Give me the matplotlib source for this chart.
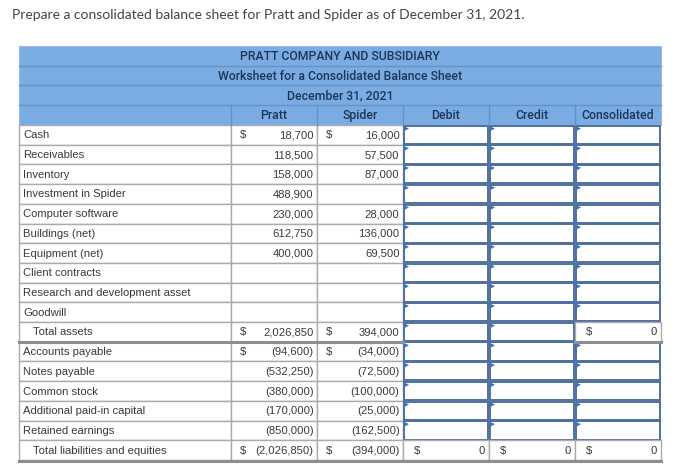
import matplotlib
matplotlib.use("Agg")
import matplotlib.pyplot as plt
from matplotlib.patches import Rectangle, Polygon

# ---------------- data ----------------
title = "Prepare a consolidated balance sheet for Pratt and Spider as of December 31, 2021."
header_lines = ["PRATT COMPANY AND SUBSIDIARY",
                "Worksheet for a Consolidated Balance Sheet",
                "December 31, 2021"]
col_headers = ["", "Pratt", "Spider", "Debit", "Credit", "Consolidated"]
row_labels = ["Cash", "Receivables", "Inventory", "Investment in Spider",
              "Computer software", "Buildings (net)", "Equipment (net)",
              "Client contracts", "Research and development asset", "Goodwill",
              "Total assets", "Accounts payable", "Notes payable", "Common stock",
              "Additional paid-in capital", "Retained earnings",
              "Total liabilities and equities"]
pratt = [18700, 118500, 158000, 488900, 230000, 612750, 400000, None, None, None,
         2026850, -94600, -532250, -380000, -170000, -850000, -2026850]
spider = [16000, 57500, 87000, None, 28000, 136000, 69500, None, None, None,
          394000, -34000, -72500, -100000, -25000, -162500, -394000]
dollar_rows = [0, 10, 11, 16]
total_rows = [10, 16]

# ---------------- layout ----------------
W, H = 700, 472
fig = plt.figure(figsize=(7, 4.72), dpi=100)
ax = fig.add_axes([0, 0, 1, 1])
ax.set_xlim(0, W)
ax.set_ylim(H, 0)
ax.axis("off")

pt = 72 / 100.0
col_x = [19, 231, 317, 403, 489, 575, 661]
head_y = [46, 65.7, 85.3, 105, 125]
body_top = 125
rh = (460 - 125) / 17.0

blue = "#7AACE3"
blue_line = "#6592C6"
head_txt = "#1D3557"
body_txt = "#3A3A3A"
gray = "#ABABAB"
inp_edge = "#4F709E"
tri_col = "#3D72BA"
narrow = ["Roboto", "DejaVu Sans"]
body_font = ["Liberation Sans", "DejaVu Sans"]

ax.text(12, 15, title, fontsize=13.9 * pt, color="#444444",
        family=["Lato", "DejaVu Sans"], va="center", ha="left")

# header block
ax.add_patch(Rectangle((col_x[0], head_y[0]), col_x[-1] - col_x[0], head_y[-1] - head_y[0],
                       facecolor=blue, edgecolor="none"))
for yy in head_y[1:4]:
    ax.plot([col_x[0], col_x[-1]], [yy, yy], color=blue_line, lw=1.0)
for xx in col_x[1:-1]:
    ax.plot([xx, xx], [head_y[3], head_y[4]], color=blue_line, lw=1.0)
ax.add_patch(Rectangle((col_x[0], head_y[0]), col_x[-1] - col_x[0], head_y[-1] - head_y[0],
                       facecolor="none", edgecolor="#9DBBDD", lw=0.8))
for i, t in enumerate(header_lines):
    ax.text((col_x[0] + col_x[-1]) / 2, (head_y[i] + head_y[i + 1]) / 2 + 0.5, t,
            fontsize=12.2 * pt, color=head_txt, family=narrow, weight="medium",
            ha="center", va="center")
for j, t in enumerate(col_headers):
    if t:
        ax.text((col_x[j] + col_x[j + 1]) / 2, (head_y[3] + head_y[4]) / 2 + 0.5, t,
                fontsize=12.2 * pt, color=head_txt, family=narrow, weight="medium",
                ha="center", va="center")


def fmt(v):
    if v is None:
        return ""
    s = f"{abs(v):,}"
    return f"({s})" if v < 0 else s


fs = 11.2 * pt
n = len(row_labels)
for i in range(n):
    y0 = body_top + i * rh
    yc = y0 + rh / 2 + 0.5
    for j in range(3):
        ax.add_patch(Rectangle((col_x[j], y0), col_x[j + 1] - col_x[j], rh,
                               facecolor="white", edgecolor=gray, lw=1.0))
    indent = 14 if i in total_rows else 4
    ax.text(col_x[0] + indent, yc, row_labels[i], fontsize=fs, color=body_txt,
            family=body_font, ha="left", va="center")
    for j, vals in ((1, pratt), (2, spider)):
        txt = fmt(vals[i])
        if txt:
            ax.text(col_x[j + 1] - 3.5, yc, txt, fontsize=fs, color=body_txt,
                    family=body_font, ha="right", va="center")
        if i in dollar_rows:
            ax.text(col_x[j] + 12, yc, "$", fontsize=fs, color=body_txt,
                    family=body_font, ha="center", va="center")
    for j in (3, 4, 5):
        is_total = (i == 16) or (i == 10 and j == 5)
        if is_total:
            ax.add_patch(Rectangle((col_x[j], y0), col_x[j + 1] - col_x[j], rh,
                                   facecolor="white", edgecolor=gray, lw=1.0))
            ax.text(col_x[j] + 14, yc, "$", fontsize=fs, color=body_txt,
                    family=body_font, ha="center", va="center")
            ax.text(col_x[j + 1] - 4, yc, "0", fontsize=fs, color=body_txt,
                    family=body_font, ha="right", va="center")
        else:
            ax.add_patch(Rectangle((col_x[j] + 0.7, y0 + 0.7),
                                   col_x[j + 1] - col_x[j] - 1.4, rh - 1.4,
                                   facecolor="white", edgecolor=inp_edge, lw=1.4))
            ax.add_patch(Polygon([[col_x[j] + 1.5, y0 + 1.5],
                                  [col_x[j] + 6, y0 + 3.5],
                                  [col_x[j] + 1.5, y0 + 6]],
                                 closed=True, facecolor=tri_col, edgecolor="none"))

# thick separators under totals
yta = body_top + 11 * rh
ax.plot([col_x[0], col_x[3]], [yta, yta], color="#8E8E8E", lw=2.2)
ax.plot([col_x[5], col_x[6]], [yta, yta], color="#8E8E8E", lw=2.2)
ybot = body_top + 17 * rh
ax.plot([col_x[0], col_x[6]], [ybot + 0.5, ybot + 0.5], color="#8E8E8E", lw=2.2)

fig.savefig("out.png", dpi=100)
